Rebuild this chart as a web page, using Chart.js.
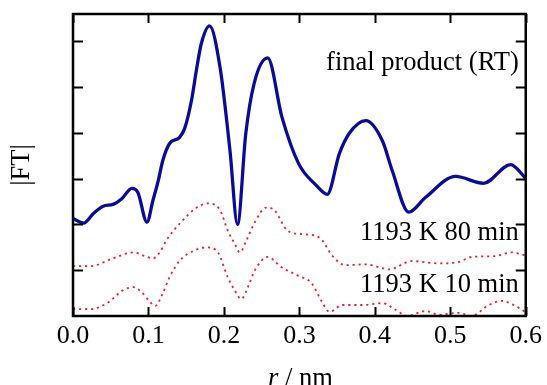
<!DOCTYPE html>
<html>
<head>
<meta charset="utf-8">
<script src="https://cdn.jsdelivr.net/npm/chart.js@4.4.1/dist/chart.umd.min.js"></script>
<style>
  html, body { margin: 0; padding: 0; background: #fff; }
  #box { width: 547px; height: 385px; }
</style>
</head>
<body>
<div id="box"><canvas id="graph-ft" width="547" height="385"></canvas></div>
<script>
// courbe finale (RT)
const rFinal = [0.000, 0.014, 0.027, 0.040, 0.053, 0.065, 0.078, 0.086, 0.098, 0.106,
                0.113, 0.119, 0.128, 0.141, 0.148, 0.157, 0.164, 0.170, 0.181, 0.195,
                0.208, 0.218, 0.229, 0.240, 0.258, 0.277, 0.299, 0.322, 0.337, 0.353,
                0.366, 0.388, 0.410, 0.423, 0.445, 0.467, 0.507, 0.544, 0.580, 0.600];
const ftFinal = [2.13, 2.03, 2.24, 2.40, 2.44, 2.57, 2.79, 2.70, 2.05, 2.53,
                 2.96, 3.40, 3.77, 3.90, 4.10, 4.71, 5.42, 5.95, 6.34, 5.42,
                 3.62, 2.00, 3.99, 5.08, 5.64, 4.34, 3.33, 2.86, 2.66, 3.55,
                 3.99, 4.27, 3.83, 3.18, 2.27, 2.59, 3.05, 2.90, 3.31, 3.01];

// 1193 K 80 min
const r80 = [0.000, 0.023, 0.053, 0.080, 0.098, 0.106, 0.115, 0.124, 0.142, 0.164,
             0.179, 0.195, 0.205, 0.214, 0.221, 0.230, 0.241, 0.256, 0.267, 0.284,
             0.302, 0.320, 0.330, 0.343, 0.361, 0.388, 0.419, 0.449, 0.485, 0.511,
             0.528, 0.560, 0.581, 0.600];
const ft80 = [1.09, 1.09, 1.26, 1.39, 1.29, 1.26, 1.39, 1.66, 2.03, 2.37,
              2.46, 2.31, 1.87, 1.59, 1.39, 1.66, 2.05, 2.37, 2.31, 1.87,
              1.79, 1.76, 1.66, 1.33, 1.11, 1.13, 1.02, 1.20, 1.15, 1.18,
              1.29, 1.31, 1.39, 1.32];

// 1193 K 10 min
const r10 = [0.000, 0.023, 0.045, 0.067, 0.080, 0.091, 0.102, 0.109, 0.118, 0.128,
             0.142, 0.162, 0.177, 0.192, 0.205, 0.214, 0.223, 0.232, 0.241, 0.258,
             0.276, 0.297, 0.316, 0.330, 0.340, 0.357, 0.383, 0.410, 0.428, 0.443,
             0.467, 0.485, 0.511, 0.528, 0.551, 0.568, 0.584, 0.600];
const ft10 = [0.15, 0.15, 0.28, 0.57, 0.63, 0.52, 0.31, 0.22, 0.46, 0.85,
              1.22, 1.44, 1.50, 1.39, 0.85, 0.57, 0.37, 0.64, 1.00, 1.29,
              1.07, 0.89, 0.72, 0.31, 0.09, 0.24, 0.24, 0.28, 0.13, 0.00,
              0.11, 0.03, 0.07, 0.00, 0.24, 0.33, 0.24, 0.08];

const xTicks = [0.0, 0.1, 0.2, 0.3, 0.4, 0.5, 0.6];
const yTicks = [1, 2, 3, 4, 5, 6];
const etiquettes = ["final product (RT)", "1193 K 80 min", "1193 K 10 min"];
const etiquettesY = [5.38, 1.66, 0.52];

const police = "'Liberation Serif', 'DejaVu Serif', serif";

function points(xs, ys) {
    return xs.map((x, i) => ({ x: x, y: ys[i] }));
}

// cadre, graduations vers l'intérieur et textes
const decor = {
    id: "decor",
    afterDatasetsDraw(chart) {
        const ctx = chart.ctx;
        const a = chart.chartArea;
        const sx = chart.scales.x;
        const sy = chart.scales.y;
        ctx.save();
        ctx.strokeStyle = "#000";
        ctx.lineWidth = 2;
        ctx.beginPath();
        xTicks.forEach(v => {
            const px = Math.round(sx.getPixelForValue(v)) + 0.5;
            ctx.moveTo(px, a.bottom); ctx.lineTo(px, a.bottom - 9);
            ctx.moveTo(px, a.top); ctx.lineTo(px, a.top + 9);
        });
        yTicks.forEach(v => {
            const py = Math.round(sy.getPixelForValue(v)) + 0.5;
            ctx.moveTo(a.left, py); ctx.lineTo(a.left + 10, py);
            ctx.moveTo(a.right, py); ctx.lineTo(a.right - 10, py);
        });
        ctx.stroke();
        ctx.lineWidth = 2.5;
        ctx.strokeRect(a.left, a.top, a.right - a.left, a.bottom - a.top);

        ctx.fillStyle = "#000";
        ctx.font = "26.5px " + police;
        ctx.textAlign = "right";
        ctx.textBaseline = "alphabetic";
        etiquettes.forEach((t, i) => {
            ctx.fillText(t, a.right - 7, sy.getPixelForValue(etiquettesY[i]));
        });

        // titre axe x : r / nm
        ctx.textAlign = "left";
        ctx.font = "italic 26.5px " + police;
        const wR = ctx.measureText("r").width;
        ctx.font = "26.5px " + police;
        const wReste = ctx.measureText(" / nm").width;
        const x0 = (a.left + a.right) / 2 - (wR + wReste) / 2 + 1;
        ctx.font = "italic 26.5px " + police;
        ctx.fillText("r", x0, 386);
        ctx.font = "26.5px " + police;
        ctx.fillText(" / nm", x0 + wR, 386);

        // titre axe y : |FT|
        ctx.translate(22, (a.top + a.bottom) / 2);
        ctx.rotate(-Math.PI / 2);
        ctx.textAlign = "center";
        ctx.textBaseline = "middle";
        ctx.fillText("|FT|", 0, 0);
        ctx.restore();
    }
};

const ctx = document.getElementById("graph-ft").getContext("2d");
const chart = new Chart(ctx, {
    type: "line",
    data: {
        datasets: [
            {
                label: "1193 K 10 min",
                data: points(r10, ft10),
                borderColor: "#e8222c",
                borderWidth: 1.8,
                borderDash: [2.2, 3.8],
                pointRadius: 0,
                fill: false,
                cubicInterpolationMode: "monotone"
            },
            {
                label: "1193 K 80 min",
                data: points(r80, ft80),
                borderColor: "#e8222c",
                borderWidth: 1.8,
                borderDash: [2.2, 3.8],
                pointRadius: 0,
                fill: false,
                cubicInterpolationMode: "monotone"
            },
            {
                label: "final product (RT)",
                data: points(rFinal, ftFinal),
                borderColor: "#0b0b99",
                borderWidth: 3.3,
                pointRadius: 0,
                fill: false,
                cubicInterpolationMode: "monotone"
            }
        ]
    },
    options: {
        responsive: false,
        animation: false,
        events: [],
        layout: { padding: { left: 73, right: 20, top: 14, bottom: 0 } },
        plugins: {
            legend: { display: false },
            tooltip: { enabled: false }
        },
        scales: {
            x: {
                type: "linear",
                min: 0,
                max: 0.6,
                afterBuildTicks: s => { s.ticks = xTicks.map(v => ({ value: v })); },
                afterFit: s => { s.height = 69; },
                grid: { display: false, drawTicks: false },
                border: { display: false },
                ticks: {
                    color: "#000",
                    padding: 5,
                    maxRotation: 0,
                    font: { family: police, size: 26 },
                    callback: v => Number(v).toFixed(1)
                }
            },
            y: {
                type: "linear",
                display: false,
                min: 0,
                max: 6.6
            }
        }
    },
    plugins: [decor]
});
</script>
</body>
</html>
